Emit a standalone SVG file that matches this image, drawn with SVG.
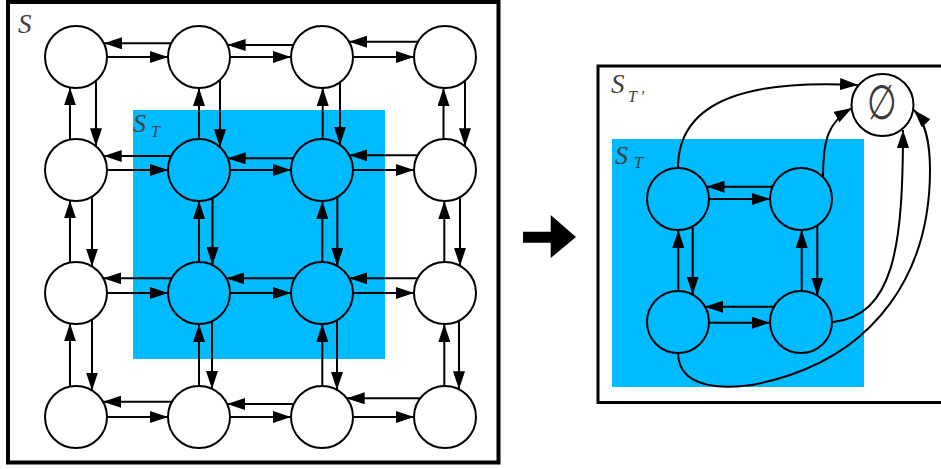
<svg xmlns="http://www.w3.org/2000/svg" width="941" height="469" viewBox="0 0 941 469">
<style>
.node{stroke:#000;stroke-width:2}
.w{fill:#fff}
.b{fill:#00bbff}
.e{fill:none;stroke:#000;stroke-width:2;marker-end:url(#ah)}
.lbl{font-family:"Liberation Serif",serif;font-style:italic;fill:#404040}
</style>
<defs>
<marker id="ah" markerUnits="userSpaceOnUse" markerWidth="18" markerHeight="12" refX="18" refY="6" orient="auto">
<path d="M0,0 L18,6 L0,12 z" fill="#000"/>
</marker>
</defs>
<rect x="0" y="0" width="941" height="469" fill="#fff"/>
<g id="frame-left">
<rect x="8" y="2" width="490.5" height="460.5" fill="#fff" stroke="#000" stroke-width="4"/>
</g>
<g id="region-ST">
<rect x="133" y="110" width="252" height="249" fill="#00bbff"/>
</g>
<g id="frame-right">
<rect x="598" y="66" width="360" height="336.5" fill="#fff" stroke="#000" stroke-width="3"/>
</g>
<g id="region-ST-right">
<rect x="612" y="139" width="252" height="248" fill="#00bbff"/>
</g>
<g id="labels">
<text class="lbl" x="18" y="33" font-size="27">S</text>
<text class="lbl" x="133" y="132" font-size="26">S</text>
<text class="lbl" x="151" y="137" font-size="16">T</text>
<text class="lbl" x="611" y="93" font-size="27">S</text>
<text class="lbl" x="628" y="102" font-size="16">T '</text>
<text class="lbl" x="615" y="164" font-size="26">S</text>
<text class="lbl" x="634" y="168" font-size="16">T</text>
</g>
<g id="connectors">
<line class="e" x1="107" y1="57" x2="168" y2="57"/>
<line class="e" x1="171" y1="43.3" x2="104" y2="43.3"/>
<line class="e" x1="230" y1="57" x2="291" y2="57"/>
<line class="e" x1="293.4" y1="45" x2="227.6" y2="45"/>
<line class="e" x1="353" y1="57" x2="414" y2="57"/>
<line class="e" x1="418" y1="41.7" x2="349" y2="41.7"/>
<line class="e" x1="107" y1="170" x2="168" y2="170"/>
<line class="e" x1="171.3" y1="156" x2="103.7" y2="156"/>
<line class="e" x1="230" y1="170" x2="291" y2="170"/>
<line class="e" x1="293.3" y1="158.3" x2="227.7" y2="158.3"/>
<line class="e" x1="353" y1="170" x2="414" y2="170"/>
<line class="e" x1="417.7" y1="155.3" x2="349.3" y2="155.3"/>
<line class="e" x1="107" y1="293" x2="168" y2="293"/>
<line class="e" x1="171.7" y1="278.3" x2="103.3" y2="278.3"/>
<line class="e" x1="230" y1="293" x2="291" y2="293"/>
<line class="e" x1="294.7" y1="278.3" x2="226.3" y2="278.3"/>
<line class="e" x1="353" y1="293" x2="414" y2="293"/>
<line class="e" x1="417.7" y1="278.3" x2="349.3" y2="278.3"/>
<line class="e" x1="107" y1="417" x2="168" y2="417"/>
<line class="e" x1="172" y1="401.7" x2="103" y2="401.7"/>
<line class="e" x1="230" y1="417" x2="291" y2="417"/>
<line class="e" x1="293.9" y1="404" x2="227.1" y2="404"/>
<line class="e" x1="353" y1="417" x2="414" y2="417"/>
<line class="e" x1="420.3" y1="398.3" x2="346.7" y2="398.3"/>
<line class="e" x1="70" y1="139.6" x2="70" y2="87.4"/>
<line class="e" x1="96" y1="80.7" x2="96" y2="146.3"/>
<line class="e" x1="199" y1="139" x2="199" y2="88"/>
<line class="e" x1="220" y1="79.8" x2="220" y2="147.2"/>
<line class="e" x1="322.7" y1="139" x2="322.7" y2="88"/>
<line class="e" x1="340" y1="82.2" x2="340" y2="144.8"/>
<line class="e" x1="443.5" y1="139" x2="443.5" y2="88"/>
<line class="e" x1="465" y1="80.7" x2="465" y2="146.3"/>
<line class="e" x1="70" y1="262.6" x2="70" y2="200.4"/>
<line class="e" x1="92" y1="196.5" x2="92" y2="266.5"/>
<line class="e" x1="199" y1="262" x2="199" y2="201"/>
<line class="e" x1="212.5" y1="197.9" x2="212.5" y2="265.1"/>
<line class="e" x1="322.3" y1="262" x2="322.3" y2="201"/>
<line class="e" x1="337.3" y1="197.1" x2="337.3" y2="265.9"/>
<line class="e" x1="444.3" y1="262" x2="444.3" y2="201"/>
<line class="e" x1="460" y1="197.1" x2="460" y2="265.9"/>
<line class="e" x1="70" y1="386.6" x2="70" y2="323.4"/>
<line class="e" x1="92" y1="319.5" x2="92" y2="390.5"/>
<line class="e" x1="199" y1="386" x2="199" y2="324"/>
<line class="e" x1="212" y1="321.1" x2="212" y2="388.9"/>
<line class="e" x1="322.3" y1="386" x2="322.3" y2="324"/>
<line class="e" x1="337" y1="320.1" x2="337" y2="389.9"/>
<line class="e" x1="444.3" y1="386" x2="444.3" y2="324"/>
<line class="e" x1="459" y1="320.7" x2="459" y2="389.3"/>
<line class="e" x1="709" y1="199" x2="770" y2="199"/>
<line class="e" x1="772.5" y1="186.7" x2="706.5" y2="186.7"/>
<line class="e" x1="709" y1="322.7" x2="770" y2="322.7"/>
<line class="e" x1="774" y1="306.7" x2="705" y2="306.7"/>
<line class="e" x1="678.3" y1="291" x2="678.3" y2="230"/>
<line class="e" x1="692.7" y1="226.3" x2="692.7" y2="294.7"/>
<line class="e" x1="801.7" y1="291" x2="801.7" y2="230"/>
<line class="e" x1="817.3" y1="225.4" x2="817.3" y2="295.6"/>
<path class="e" d="M678,168 C678,95 760,80 858,85"/>
<path class="e" d="M823,177 C823,140 828,122 852,108"/>
<path class="e" d="M833,322 C893,315 903,250 903,130"/>
<path class="e" d="M678,352 C678,395 740,392 790,375 C870,348 930,280 930,170 C930,140 925,122 914,110"/>
<polygon points="523,231.7 550.7,231.7 550.7,215 576,237 550.7,258 550.7,242.7 523,242.7" fill="#000"/>
</g>
<g id="n11"><circle class="node w" cx="76" cy="57" r="31"/></g>
<g id="n12"><circle class="node w" cx="199" cy="57" r="31"/></g>
<g id="n13"><circle class="node w" cx="322" cy="57" r="31"/></g>
<g id="n14"><circle class="node w" cx="445" cy="57" r="31"/></g>
<g id="n21"><circle class="node w" cx="76" cy="170" r="31"/></g>
<g id="n22"><circle class="node b" cx="199" cy="170" r="31"/></g>
<g id="n23"><circle class="node b" cx="322" cy="170" r="31"/></g>
<g id="n24"><circle class="node w" cx="445" cy="170" r="31"/></g>
<g id="n31"><circle class="node w" cx="76" cy="293" r="31"/></g>
<g id="n32"><circle class="node b" cx="199" cy="293" r="31"/></g>
<g id="n33"><circle class="node b" cx="322" cy="293" r="31"/></g>
<g id="n34"><circle class="node w" cx="445" cy="293" r="31"/></g>
<g id="n41"><circle class="node w" cx="76" cy="417" r="31"/></g>
<g id="n42"><circle class="node w" cx="199" cy="417" r="31"/></g>
<g id="n43"><circle class="node w" cx="322" cy="417" r="31"/></g>
<g id="n44"><circle class="node w" cx="445" cy="417" r="31"/></g>
<g id="r11"><circle class="node b" cx="678" cy="199" r="31"/></g>
<g id="r12"><circle class="node b" cx="801" cy="199" r="31"/></g>
<g id="r21"><circle class="node b" cx="678" cy="322" r="31"/></g>
<g id="r22"><circle class="node b" cx="801" cy="322" r="31"/></g>
<g id="empty">
<circle class="node w" cx="882.5" cy="105" r="31"/>
<text transform="translate(882.5,105) scale(0.85,1.2)" x="0" y="12" font-size="40" text-anchor="middle" font-family="'Liberation Sans',sans-serif" fill="#3a3a3a">∅</text>
</g>
</svg>
